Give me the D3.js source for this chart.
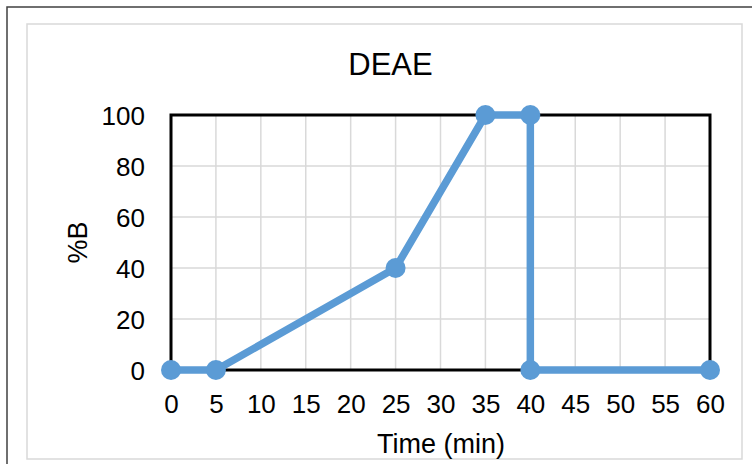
<!DOCTYPE html>
<html>
<head>
<meta charset="utf-8">
<script src="https://cdn.jsdelivr.net/npm/d3@7"></script>
<style>
  html, body { margin: 0; padding: 0; background: #fff; }
  svg { display: block; font-family: "Liberation Sans", Arial, sans-serif; }
</style>
</head>
<body>
<svg id="chart" width="752" height="464"></svg>
<script>
// Gradient program for the DEAE column
const timeMin = [0, 5, 25, 35, 40, 40, 60];
const percentB = [0, 0, 40, 100, 100, 0, 0];
const xTicks = [0, 5, 10, 15, 20, 25, 30, 35, 40, 45, 50, 55, 60];
const yTicks = [0, 20, 40, 60, 80, 100];
const chartTitle = "DEAE";
const xTitle = "Time (min)";
const yTitle = "%B";

const svg = d3.select("#chart");
const W = 752, H = 464;
const plot = { left: 171, right: 710, top: 115, bottom: 370 };
const blue = "#5b9bd5";
const grid = "#d9d9d9";

// outer frame and chart-area border
svg.append("rect").attr("x", 7).attr("y", 7).attr("width", W + 20).attr("height", H + 20)
  .attr("fill", "none").attr("stroke", "#404040").attr("stroke-width", 1.5);
svg.append("rect").attr("x", 27).attr("y", 24).attr("width", 715).attr("height", 435)
  .attr("fill", "#fff").attr("stroke", grid).attr("stroke-width", 1.5);

const x = d3.scaleLinear().domain([0, 60]).range([plot.left, plot.right]);
const y = d3.scaleLinear().domain([0, 100]).range([plot.bottom, plot.top]);

// gridlines
svg.append("g").selectAll("line").data(xTicks.slice(1, -1)).join("line")
  .attr("x1", d => x(d)).attr("x2", d => x(d))
  .attr("y1", plot.top).attr("y2", plot.bottom)
  .attr("stroke", grid).attr("stroke-width", 1.5);
svg.append("g").selectAll("line").data(yTicks.slice(1, -1)).join("line")
  .attr("x1", plot.left).attr("x2", plot.right)
  .attr("y1", d => y(d)).attr("y2", d => y(d))
  .attr("stroke", grid).attr("stroke-width", 1.5);

// plot border
svg.append("rect").attr("x", plot.left).attr("y", plot.top)
  .attr("width", plot.right - plot.left).attr("height", plot.bottom - plot.top)
  .attr("fill", "none").attr("stroke", "#000").attr("stroke-width", 3);

// axes (labels only)
const xAxis = svg.append("g").attr("transform", `translate(0,${plot.bottom})`)
  .call(d3.axisBottom(x).tickValues(xTicks).tickSize(0).tickPadding(0));
xAxis.select(".domain").remove();
xAxis.selectAll("text").attr("dy", null).attr("y", 43)
  .attr("font-size", 26).attr("fill", "#000").attr("font-family", "Liberation Sans, Arial, sans-serif");

const yAxis = svg.append("g").attr("transform", `translate(145,0)`)
  .call(d3.axisLeft(y).tickValues(yTicks).tickSize(0).tickPadding(0));
yAxis.select(".domain").remove();
yAxis.selectAll("text").attr("dy", "0.35em").attr("x", 0)
  .attr("font-size", 26).attr("fill", "#000").attr("font-family", "Liberation Sans, Arial, sans-serif");

// series
const pts = timeMin.map((t, i) => [t, percentB[i]]);
svg.append("path").datum(pts)
  .attr("d", d3.line().x(d => x(d[0])).y(d => y(d[1])))
  .attr("fill", "none").attr("stroke", blue).attr("stroke-width", 7.5)
  .attr("stroke-linejoin", "round");
svg.append("g").selectAll("circle").data(pts).join("circle")
  .attr("cx", d => x(d[0])).attr("cy", d => y(d[1])).attr("r", 10)
  .attr("fill", blue);

// titles
svg.append("text").attr("x", 390.5).attr("y", 75).attr("text-anchor", "middle")
  .attr("font-size", 31).attr("fill", "#000").text(chartTitle);
svg.append("text").attr("x", 441).attr("y", 453).attr("text-anchor", "middle")
  .attr("font-size", 27).attr("fill", "#000").text(xTitle);
svg.append("text").attr("transform", `translate(87,242.5) rotate(-90)`).attr("text-anchor", "middle")
  .attr("font-size", 27).attr("fill", "#000").text(yTitle);
</script>
</body>
</html>
